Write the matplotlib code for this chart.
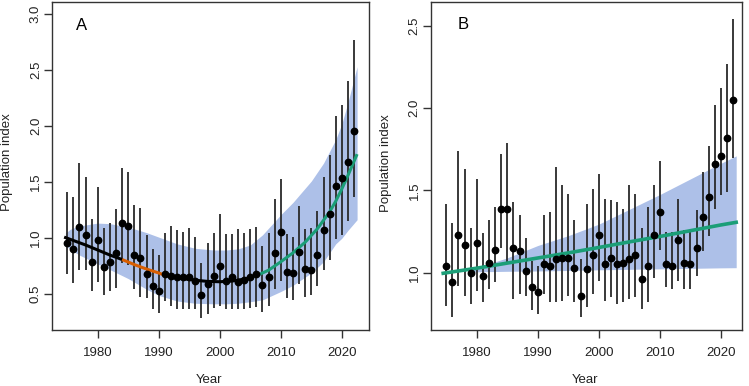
import matplotlib.pyplot as plt
import numpy as np

plt.rcParams['font.family'] = ['Liberation Sans', 'DejaVu Sans']

years = np.arange(1975, 2023)

# panel A: yearly index with 95% interval
a_val = [0.96, 0.90, 1.10, 1.03, 0.79, 0.98, 0.74, 0.79, 0.87, 1.14, 1.11, 0.85,
         0.82, 0.68, 0.57, 0.53, 0.68, 0.66, 0.65, 0.65, 0.65, 0.62, 0.49, 0.59,
         0.66, 0.75, 0.62, 0.65, 0.61, 0.63, 0.65, 0.68, 0.58, 0.65, 0.87, 1.06,
         0.70, 0.69, 0.88, 0.73, 0.72, 0.85, 1.07, 1.22, 1.47, 1.54, 1.68, 1.96]
a_hi = [1.41, 1.37, 1.67, 1.55, 1.17, 1.46, 1.09, 1.14, 1.26, 1.63, 1.59, 1.30,
        1.27, 1.03, 0.90, 0.85, 1.05, 1.11, 1.07, 1.06, 1.09, 1.01, 0.78, 0.96,
        1.05, 1.22, 1.04, 1.04, 1.08, 1.05, 1.08, 1.10, 0.93, 1.05, 1.35, 1.53,
        1.04, 1.01, 1.29, 1.08, 1.09, 1.24, 1.55, 1.74, 2.09, 2.19, 2.40, 2.77]
a_lo = [0.68, 0.60, 0.72, 0.72, 0.53, 0.61, 0.49, 0.53, 0.56, 0.78, 0.76, 0.55,
        0.48, 0.47, 0.37, 0.33, 0.44, 0.40, 0.37, 0.37, 0.37, 0.37, 0.29, 0.32,
        0.38, 0.40, 0.37, 0.37, 0.37, 0.37, 0.38, 0.39, 0.34, 0.40, 0.55, 0.62,
        0.47, 0.45, 0.59, 0.48, 0.49, 0.57, 0.72, 0.81, 0.99, 1.03, 1.15, 1.37]

# panel A: smoothed trend and its band
a_fit_x = [1974.5, 1976, 1978, 1980, 1982, 1984, 1986, 1988, 1990, 1990.75, 1992,
           1994, 1996, 1998, 2000, 2002, 2004, 2005.3, 2006, 2008, 2010, 2012,
           2014, 2016, 2018, 2019, 2020, 2021, 2022.5]
a_fit = [1.01, 0.98, 0.94, 0.895, 0.85, 0.81, 0.765, 0.725, 0.69, 0.675, 0.66,
         0.64, 0.625, 0.615, 0.612, 0.618, 0.635, 0.655, 0.665, 0.715, 0.79, 0.87,
         0.965, 1.085, 1.235, 1.33, 1.44, 1.56, 1.75]
a_band_x = [1974.7, 1975.5, 1977, 1980, 1982, 1985, 1988, 1990, 1993, 1996, 1999,
            2001, 2003, 2005, 2007, 2010, 2012, 2015, 2017, 2019, 2020, 2021, 2022.5]
a_band_hi = [1.045, 1.08, 1.11, 1.135, 1.13, 1.10, 1.05, 1.01, 0.95, 0.91, 0.895,
             0.895, 0.905, 0.94, 1.03, 1.21, 1.32, 1.51, 1.67, 1.88, 2.02, 2.21, 2.53]
a_band_lo = [0.94, 0.90, 0.85, 0.77, 0.72, 0.64, 0.545, 0.49, 0.44, 0.42, 0.415,
             0.415, 0.42, 0.434, 0.45, 0.525, 0.58, 0.69, 0.79, 0.95, 1.0, 1.07, 1.165]

# panel B
b_val = [1.04, 0.94, 1.23, 1.17, 1.00, 1.18, 0.98, 1.06, 1.14, 1.39, 1.39, 1.15,
         1.13, 1.01, 0.91, 0.88, 1.05, 1.04, 1.08, 1.09, 1.09, 1.03, 0.86, 1.02,
         1.11, 1.23, 1.05, 1.09, 1.05, 1.06, 1.08, 1.11, 0.96, 1.04, 1.23, 1.37,
         1.05, 1.04, 1.20, 1.06, 1.05, 1.15, 1.34, 1.46, 1.66, 1.71, 1.82, 2.05]
b_hi = [1.42, 1.30, 1.74, 1.63, 1.27, 1.57, 1.24, 1.32, 1.40, 1.72, 1.79, 1.43,
        1.35, 1.21, 1.07, 1.04, 1.35, 1.37, 1.64, 1.53, 1.48, 1.32, 1.08, 1.42,
        1.51, 1.60, 1.45, 1.44, 1.43, 1.39, 1.53, 1.48, 1.27, 1.40, 1.53, 1.68,
        1.25, 1.25, 1.45, 1.26, 1.25, 1.38, 1.61, 1.77, 2.02, 2.12, 2.27, 2.54]
b_lo = [0.80, 0.73, 0.92, 0.86, 0.81, 0.89, 0.82, 0.90, 0.94, 1.15, 1.06, 0.84,
        0.87, 0.86, 0.77, 0.75, 0.87, 0.82, 0.82, 0.83, 0.86, 0.82, 0.73, 0.79,
        0.87, 0.95, 0.83, 0.85, 0.81, 0.82, 0.84, 0.85, 0.78, 0.82, 0.97, 1.14,
        0.91, 0.90, 0.95, 0.90, 0.90, 0.98, 1.13, 1.22, 1.39, 1.47, 1.49, 1.70]
b_fit_x = [1974.5, 1980, 1985, 1990, 1995, 2000, 2005, 2010, 2015, 2020, 2022.5]
b_fit = [0.996, 1.027, 1.058, 1.089, 1.12, 1.153, 1.187, 1.22, 1.255, 1.29, 1.306]
b_band_x = [1978.5, 1980, 1985, 1990, 1995, 2000, 2005, 2010, 2015, 2020, 2022.5]
b_band_hi = [1.01, 1.03, 1.09, 1.165, 1.225, 1.295, 1.385, 1.475, 1.57, 1.665, 1.71]
b_band_lo = [1.0, 1.005, 1.008, 1.01, 1.013, 1.017, 1.02, 1.023, 1.026, 1.029, 1.03]

band_col = '#adc0e8'
green = '#1b9e77'
orange = '#d95f02'
axcol = '#333333'

fig = plt.figure(figsize=(7.49, 3.86), dpi=100)
axA = fig.add_axes([52.3/749, 56/386, 317/749, 328/386])
axB = fig.add_axes([431/749, 56/386, 311.3/749, 328/386])


def style(ax):
    for s in ax.spines.values():
        s.set_color(axcol)
        s.set_linewidth(1.0)
    ax.tick_params(direction='out', length=5.5, width=1.0, color=axcol,
                   labelsize=9.5, labelcolor='#222222')
    ax.tick_params(axis='x', pad=7)
    ax.tick_params(axis='y', pad=2)
    for lab in ax.get_yticklabels():
        lab.set_rotation(90)
        lab.set_va('center')
    ax.set_xticks([1980, 1990, 2000, 2010, 2020])
    ax.set_xlabel('Year', fontsize=9.5, color='#222222')
    ax.set_ylabel('Population index', fontsize=9.5, color='#222222')
    ax.yaxis.label.set_va('center')
    ax.xaxis.label.set_va('center')


# panel A
axA.fill_between(a_band_x, a_band_lo, a_band_hi, color=band_col, lw=0, zorder=1)
axA.vlines(years, a_lo, a_hi, color='#2a2a2a', lw=1.3, zorder=2)
fx = np.array(a_fit_x)
fy = np.array(a_fit)
m1 = fx <= 1984
m2 = (fx >= 1984) & (fx <= 1990.75)
m3 = (fx >= 1990.75) & (fx <= 2005.3)
m4 = fx >= 2005.3
axA.plot(fx[m1], fy[m1], color='black', lw=2.2, zorder=3, solid_capstyle='butt')
axA.plot(fx[m2], fy[m2], color=orange, lw=2.2, zorder=3, solid_capstyle='butt')
axA.plot(fx[m3], fy[m3], color='black', lw=2.2, zorder=3, solid_capstyle='butt')
axA.plot(fx[m4], fy[m4], color=green, lw=2.2, zorder=3, solid_capstyle='butt')
axA.plot(years, a_val, 'o', color='black', ms=4.6, zorder=4)
axA.set_xlim(1972.56, 2024.5)
axA.set_ylim(0.1815, 3.107)
axA.set_yticks([0.5, 1.0, 1.5, 2.0, 2.5, 3.0])
axA.set_yticklabels(['0.5', '1.0', '1.5', '2.0', '2.5', '3.0'])
style(axA)
axA.text(0.093, 0.927, 'A', transform=axA.transAxes, fontsize=12,
         ha='center', va='center')
axA.yaxis.set_label_coords(-0.143, 0.513)
axA.xaxis.set_label_coords(0.494, -0.152)

# panel B
axB.fill_between(b_band_x, b_band_lo, b_band_hi, color=band_col, lw=0, zorder=1)
axB.vlines(years, b_lo, b_hi, color='#2a2a2a', lw=1.3, zorder=2)
axB.plot(b_fit_x, b_fit, color=green, lw=2.6, zorder=3)
axB.plot(years, b_val, 'o', color='black', ms=4.6, zorder=4)
axB.set_xlim(1972.5, 2023.5)
axB.set_ylim(0.651, 2.646)
axB.set_yticks([1.0, 1.5, 2.0, 2.5])
axB.set_yticklabels(['1.0', '1.5', '2.0', '2.5'])
style(axB)
axB.text(0.104, 0.93, 'B', transform=axB.transAxes, fontsize=12,
         ha='center', va='center')
axB.yaxis.set_label_coords(-0.1446, 0.51)
axB.xaxis.set_label_coords(0.494, -0.152)

fig.savefig('out.png', dpi=100)
